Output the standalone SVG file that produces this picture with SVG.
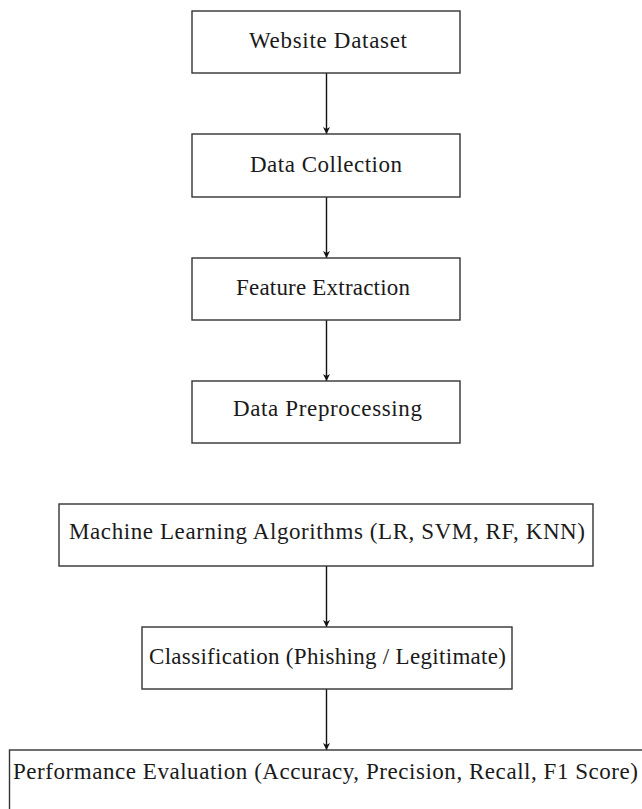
<svg xmlns="http://www.w3.org/2000/svg" width="642" height="809" viewBox="0 0 642 809">
<style>
.box{fill:#fff;stroke:#333;stroke-width:1.4}
.lbl{font-family:"Liberation Serif","Times New Roman",serif;font-size:23px;fill:#1a1a1a}
.edge{stroke:#111;stroke-width:1.4;fill:none;marker-end:url(#ah)}
</style>
<defs>
<marker id="ah" viewBox="0 0 10 10" refX="10" refY="5" markerWidth="8" markerHeight="7" markerUnits="userSpaceOnUse" orient="auto">
<path d="M0,0 L10,5 L0,10 L3,5 z" fill="#111"/>
</marker>
</defs>
<rect width="642" height="809" fill="#fff"/>
<g id="connectors">
<line class="edge" x1="326.5" y1="73" x2="326.5" y2="134"/>
<line class="edge" x1="326.5" y1="197" x2="326.5" y2="258"/>
<line class="edge" x1="326.5" y1="320" x2="326.5" y2="381"/>
<line class="edge" x1="326.5" y1="566" x2="326.5" y2="627"/>
<line class="edge" x1="326.5" y1="689" x2="326.5" y2="750"/>
</g>
<g id="n1"><rect class="box" x="192" y="11" width="268" height="62"/><text class="lbl" x="249" y="48" textLength="158" lengthAdjust="spacing">Website Dataset</text></g>
<g id="n2"><rect class="box" x="192" y="134" width="268" height="63"/><text class="lbl" x="250" y="172" textLength="152" lengthAdjust="spacing">Data Collection</text></g>
<g id="n3"><rect class="box" x="192" y="258" width="268" height="62"/><text class="lbl" x="236" y="295" textLength="174" lengthAdjust="spacing">Feature Extraction</text></g>
<g id="n4"><rect class="box" x="192" y="381" width="268" height="62"/><text class="lbl" x="233" y="416" textLength="189" lengthAdjust="spacing">Data Preprocessing</text></g>
<g id="n5"><rect class="box" x="59" y="504" width="534" height="62"/><text class="lbl" x="69" y="539" textLength="516" lengthAdjust="spacing">Machine Learning Algorithms (LR, SVM, RF, KNN)</text></g>
<g id="n6"><rect class="box" x="142" y="627" width="370" height="62"/><text class="lbl" x="149" y="664" textLength="357" lengthAdjust="spacing">Classification (Phishing / Legitimate)</text></g>
<g id="n7"><rect class="box" x="9.5" y="750" width="640" height="70"/><text class="lbl" x="13" y="779" textLength="625" lengthAdjust="spacing">Performance Evaluation (Accuracy, Precision, Recall, F1 Score)</text></g>
</svg>
